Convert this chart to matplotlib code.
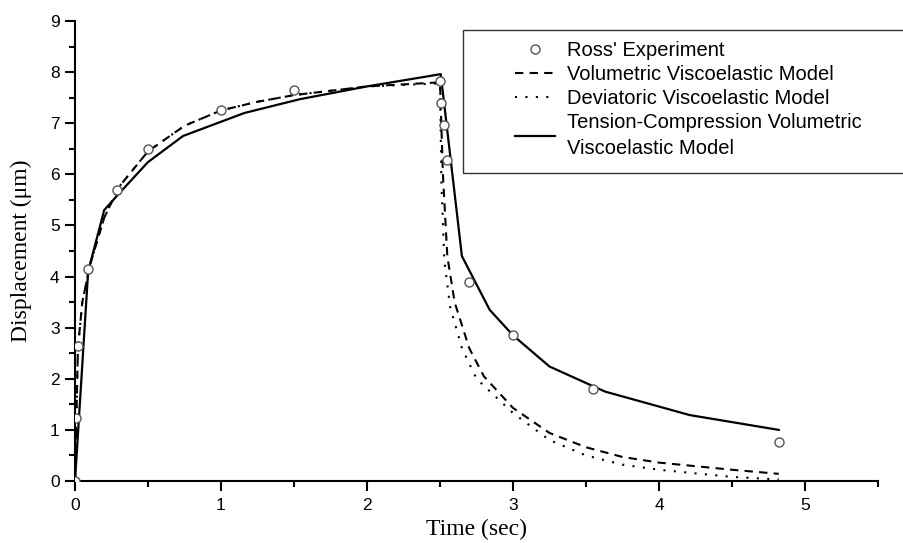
import matplotlib
matplotlib.use("Agg")
import matplotlib.pyplot as plt
from matplotlib.patches import Rectangle

# Ross' experiment
exp_t = [0.0, 0.01, 0.018, 0.09, 0.29, 0.50, 1.0, 1.5, 2.5, 2.507, 2.527, 2.545, 2.70, 3.0, 3.55, 4.82]
exp_d = [0.0, 1.23, 2.65, 4.15, 5.70, 6.49, 7.26, 7.65, 7.83, 7.39, 6.96, 6.29, 3.89, 2.85, 1.80, 0.77]

# Volumetric viscoelastic model (dashed)
vol_t = [0.0, 0.01, 0.02, 0.05, 0.1, 0.2, 0.3, 0.5, 0.75, 1.0, 1.25, 1.5, 2.0, 2.5,
         2.52, 2.55, 2.6, 2.7, 2.8, 3.0, 3.25, 3.5, 3.75, 4.0, 4.5, 4.82]
vol_d = [0.0, 1.3, 2.6, 3.5, 4.2, 5.15, 5.75, 6.45, 6.95, 7.25, 7.42, 7.55, 7.72, 7.80,
         6.0, 4.4, 3.5, 2.6, 2.05, 1.43, 0.94, 0.66, 0.47, 0.36, 0.22, 0.14]

# Deviatoric viscoelastic model (dotted)
dev_t = [0.0, 0.01, 0.02, 0.05, 0.1, 0.2, 0.3, 0.5, 0.75, 1.0, 1.25, 1.5, 2.0, 2.5,
         2.51, 2.53, 2.57, 2.65, 2.75, 3.0, 3.25, 3.5, 3.75, 4.0, 4.5, 4.82]
dev_d = [0.0, 1.3, 2.6, 3.5, 4.2, 5.15, 5.75, 6.45, 6.95, 7.25, 7.42, 7.55, 7.72, 7.78,
         5.8, 4.3, 3.4, 2.6, 2.0, 1.33, 0.8, 0.5, 0.32, 0.22, 0.08, 0.03]

# Tension-compression volumetric viscoelastic model (solid)
tc_t = [0.0, 0.09, 0.2, 0.3, 0.5, 0.74, 1.16, 1.54, 2.0, 2.505,
        2.65, 2.84, 3.0, 3.25, 3.63, 4.21, 4.82]
tc_d = [0.0, 4.1, 5.3, 5.62, 6.24, 6.75, 7.2, 7.47, 7.72, 7.96,
        4.40, 3.35, 2.85, 2.24, 1.75, 1.29, 1.0]

labels = ["Ross' Experiment", "Volumetric Viscoelastic Model",
          "Deviatoric Viscoelastic Model",
          "Tension-Compression Volumetric\nViscoelastic Model"]

W, H = 904, 543
fig = plt.figure(figsize=(W / 100, H / 100), dpi=100)
ax = fig.add_axes([75 / W, 1 - 481 / H, (878 - 75) / W, (481 - 21) / H])

lv, = ax.plot(vol_t, vol_d, color='black', lw=1.5, linestyle=(0, (4, 3)))
ld, = ax.plot(dev_t, dev_d, color='black', lw=1.5, linestyle=(0, (1, 4)))
lt, = ax.plot(tc_t, tc_d, color='black', lw=1.6, linestyle='-')
le, = ax.plot(exp_t, exp_d, linestyle='none', marker='o', markersize=6.5,
              markerfacecolor='white', markeredgecolor='#555555', markeredgewidth=1.0, zorder=5)

ax.set_xlim(0, 5.5)
ax.set_ylim(0, 9)
ax.set_xticks([0, 1, 2, 3, 4, 5])
ax.set_xticks([0.5, 1.5, 2.5, 3.5, 4.5, 5.5], minor=True)
ax.set_yticks(range(0, 10))
ax.set_yticks([i + 0.5 for i in range(9)], minor=True)
for s in ['top', 'right']:
    ax.spines[s].set_visible(False)
for s in ['left', 'bottom']:
    ax.spines[s].set_linewidth(1.5)
ax.tick_params(which='major', direction='out', length=7, width=1.5)
ax.tick_params(which='minor', direction='out', length=4, width=1.5)
ax.tick_params(axis='x', which='major', pad=5)
ax.tick_params(axis='y', which='major', pad=4)
for lab in ax.get_xticklabels() + ax.get_yticklabels():
    lab.set_fontfamily('Liberation Sans')
    lab.set_fontsize(12.5)

ax.set_xlabel('Time (sec)', fontfamily='Liberation Serif', fontsize=17, labelpad=0)
ax.xaxis.set_label_coords(0.5, -0.083)
ax.set_ylabel('Displacement (μm)', fontfamily='Liberation Serif', fontsize=17)
ax.yaxis.set_label_coords(-0.054, 0.5)

# legend frame
fig.patches.append(Rectangle((463 / W, 1 - 173 / H), 500 / W, (173 - 30) / H,
                             transform=fig.transFigure, fill=False, edgecolor='#333333',
                             lw=1.0, clip_on=False))
leg = fig.legend([le, lv, ld, lt], labels, loc='upper left',
                 bbox_to_anchor=(515 / W, 1 - 41 / H), bbox_transform=fig.transFigure,
                 frameon=False, borderpad=0, borderaxespad=0, handlelength=2.0,
                 handletextpad=0.6, labelspacing=0.25,
                 prop={'family': 'Liberation Sans', 'size': 14.5})
for t in leg.get_texts():
    t.set_linespacing(1.45)

fig.savefig('out.png', dpi=100, facecolor='white')
